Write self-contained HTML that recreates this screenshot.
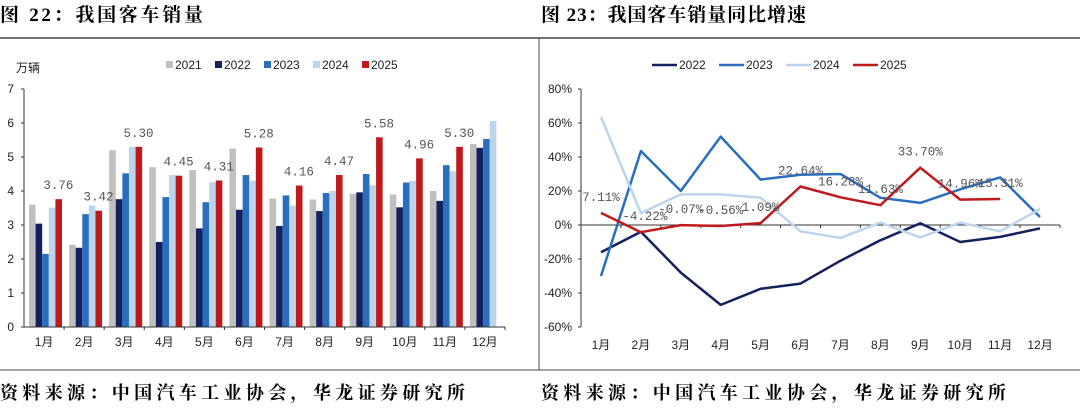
<!DOCTYPE html>
<html><head><meta charset="utf-8">
<style>
body{margin:0;width:1080px;height:412px;background:#fff;overflow:hidden}
svg{display:block}
.t{font-family:"Liberation Serif","Noto Serif CJK SC",serif;font-weight:bold;font-size:19px;fill:#000}
.s{font-family:"Liberation Serif","Noto Serif CJK SC",serif;font-weight:bold;font-size:18px;fill:#000}
.ax{font-family:"Liberation Sans","Noto Sans CJK SC",sans-serif;font-size:12px;fill:#222}
.lb{font-family:"Liberation Mono","Noto Sans CJK SC",monospace;font-size:12.5px;fill:#555}
</style></head><body>
<svg id="svg" width="1080" height="412">
<text class="t" x="0" y="21" textLength="203" lengthAdjust="spacing">图 22：我国客车销量</text>
<text class="t" x="541" y="21" textLength="265" lengthAdjust="spacing">图 23：我国客车销量同比增速</text>
<line x1="0" y1="38" x2="1080" y2="38" stroke="#444" stroke-width="1.5"/>
<line x1="0" y1="370" x2="1080" y2="370" stroke="#888" stroke-width="1.5"/>
<line x1="539" y1="38" x2="539" y2="370" stroke="#444" stroke-width="1"/>
<text class="s" x="0" y="399" textLength="465" lengthAdjust="spacing">资料来源：中国汽车工业协会，华龙证券研究所</text>
<text class="s" x="541" y="399" textLength="465" lengthAdjust="spacing">资料来源：中国汽车工业协会，华龙证券研究所</text>
<g id="left"></g><g id="right"></g>
</svg>
<script>
const months=["1月","2月","3月","4月","5月","6月","7月","8月","9月","10月","11月","12月"];
const barYears=["2021","2022","2023","2024","2025"];
const barColors=["#c0c0c0","#14215e","#2a6fbf","#bcd4ec","#c0191b"];
const s2021=[3.6,2.42,5.2,4.7,4.62,5.25,3.78,3.75,3.92,3.9,4.0,5.38];
const s2022=[3.04,2.33,3.76,2.5,2.9,3.45,2.97,3.41,3.96,3.52,3.71,5.27];
const s2023=[2.15,3.32,4.52,3.82,3.67,4.47,3.87,3.94,4.5,4.25,4.76,5.53];
const s2024=[3.51,3.57,5.3,4.47,4.26,4.3,3.57,4.0,4.17,4.3,4.58,6.06];
const s2025=[3.76,3.42,5.30,4.45,4.31,5.28,4.16,4.47,5.58,4.96,5.30,null];
const yTicksL=[0,1,2,3,4,5,6,7];
const lineYears=["2022","2023","2024","2025"];
const lineColors=["#14215e","#2a6fbf","#bcd4ec","#c0191b"];
const g2022=[-16,-4,-28,-47,-37.5,-34.5,-21,-9,1,-10,-7,-2];
const g2023=[-30,43.5,20,52,26.7,29.6,30,16,13,21,28,4.7];
const g2024=[63.5,7,18,18,16,-3.7,-7.6,1.4,-7.3,1.4,-3.7,9.4];
const g2025=[7.11,-4.22,-0.07,-0.56,1.09,22.64,16.28,11.63,33.70,14.96,15.31,null];
const yTicksR=[-60,-40,-20,0,20,40,60,80];
const NS="http://www.w3.org/2000/svg";
function mk(p,tag,a,txt){const e=document.createElementNS(NS,tag);for(const k in a)e.setAttribute(k,a[k]);if(txt!=null)e.textContent=txt;p.appendChild(e);return e;}
// LEFT
const L=document.getElementById('left');
const lx0=24,lx1=505,ly0=327,ly1=89,lmax=7;
const ly=v=>ly0-(v/lmax)*(ly0-ly1);
const gw=(lx1-lx0)/12;
const lbx=(i,j)=>lx0+i*gw+5+j*6.6;
let e;
e=mk(L,'text',{class:'ax',x:16,y:72,'font-size':'12'},'万辆');


yTicksL.forEach(t=>{
 e=mk(L,'text',{class:'ax',x:14,y:ly(t)+4,'text-anchor':'end'},String(t));
 
 
 mk(L,'line',{x1:lx0-3,x2:lx0,y1:ly(t),y2:ly(t),stroke:'#333'});
});
const bars=[s2021,s2022,s2023,s2024,s2025];
bars.forEach((s,j)=>s.forEach((v,i)=>{
 if(v==null)return;
 e=mk(L,'rect',{x:lbx(i,j),y:ly(v),width:6.6,height:ly0-ly(v),fill:barColors[j]});
 
 
 if(j==4){
  e=mk(L,'text',{class:'lb',x:lbx(i,j)+3,y:ly(v)-10,'text-anchor':'middle'},v.toFixed(2));
  
  
 }
}));
mk(L,'line',{x1:lx0,x2:lx0,y1:ly1,y2:ly0,stroke:'#333'});
mk(L,'line',{x1:lx0,x2:lx1,y1:ly0,y2:ly0,stroke:'#333'});
months.forEach((m,i)=>{
 mk(L,'line',{x1:lx0+(i+1)*gw,x2:lx0+(i+1)*gw,y1:ly0,y2:ly0+3,stroke:'#333'});
 e=mk(L,'text',{class:'ax',x:lx0+(i+0.5)*gw,y:346,'text-anchor':'middle'},m);
 
 
});
barYears.forEach((y,j)=>{
 const x=166+j*49;
 e=mk(L,'rect',{x:x,y:61,width:7,height:7,fill:barColors[j]});
 
 
 e=mk(L,'text',{class:'ax',x:x+9,y:69},y);
 
 
});
// RIGHT
const R=document.getElementById('right');
const rx0=581,rx1=1060,ry0=327,ry1=89;
const ry=v=>ry0-((v+60)/140)*(ry0-ry1);
const rw=(rx1-rx0)/12;
const rxp=i=>rx0+(i+0.5)*rw;
yTicksR.forEach(t=>{
 e=mk(R,'text',{class:'ax',x:572,y:ry(t)+4,'text-anchor':'end'},t+'%');
 
 
 mk(R,'line',{x1:rx0-3,x2:rx0,y1:ry(t),y2:ry(t),stroke:'#333'});
});
mk(R,'line',{x1:rx0,x2:rx0,y1:ry1,y2:ry0,stroke:'#333'});
mk(R,'line',{x1:rx0,x2:rx1,y1:ry(0),y2:ry(0),stroke:'#333'});
months.forEach((m,i)=>{
 mk(R,'line',{x1:rx0+(i+1)*rw,x2:rx0+(i+1)*rw,y1:ry(0),y2:ry(0)+3,stroke:'#333'});
 e=mk(R,'text',{class:'ax',x:rxp(i),y:349,'text-anchor':'middle'},m);
 
 
});
[g2022,g2023,g2024,g2025].forEach((s,j)=>{
 const pts=s.map((v,i)=>v==null?null:rxp(i).toFixed(1)+','+ry(v).toFixed(1)).filter(p=>p);
 e=mk(R,'polyline',{points:pts.join(' '),fill:'none',stroke:lineColors[j],'stroke-width':2.5,'stroke-linejoin':'round'});
 
 
});
g2025.forEach((v,i)=>{
 if(v==null)return;
 e=mk(R,'text',{class:'lb',x:rxp(i)+(i==1?4:0),y:ry(v)-12,'text-anchor':'middle'},v.toFixed(2)+'%');
 
 
});
lineYears.forEach((y,j)=>{
 const x=652+j*67;
 e=mk(R,'line',{x1:x,x2:x+25,y1:65,y2:65,stroke:lineColors[j],'stroke-width':2.5});
 
 
 e=mk(R,'text',{class:'ax',x:x+27,y:69},y);
 
 
});
</script>
</body></html>
